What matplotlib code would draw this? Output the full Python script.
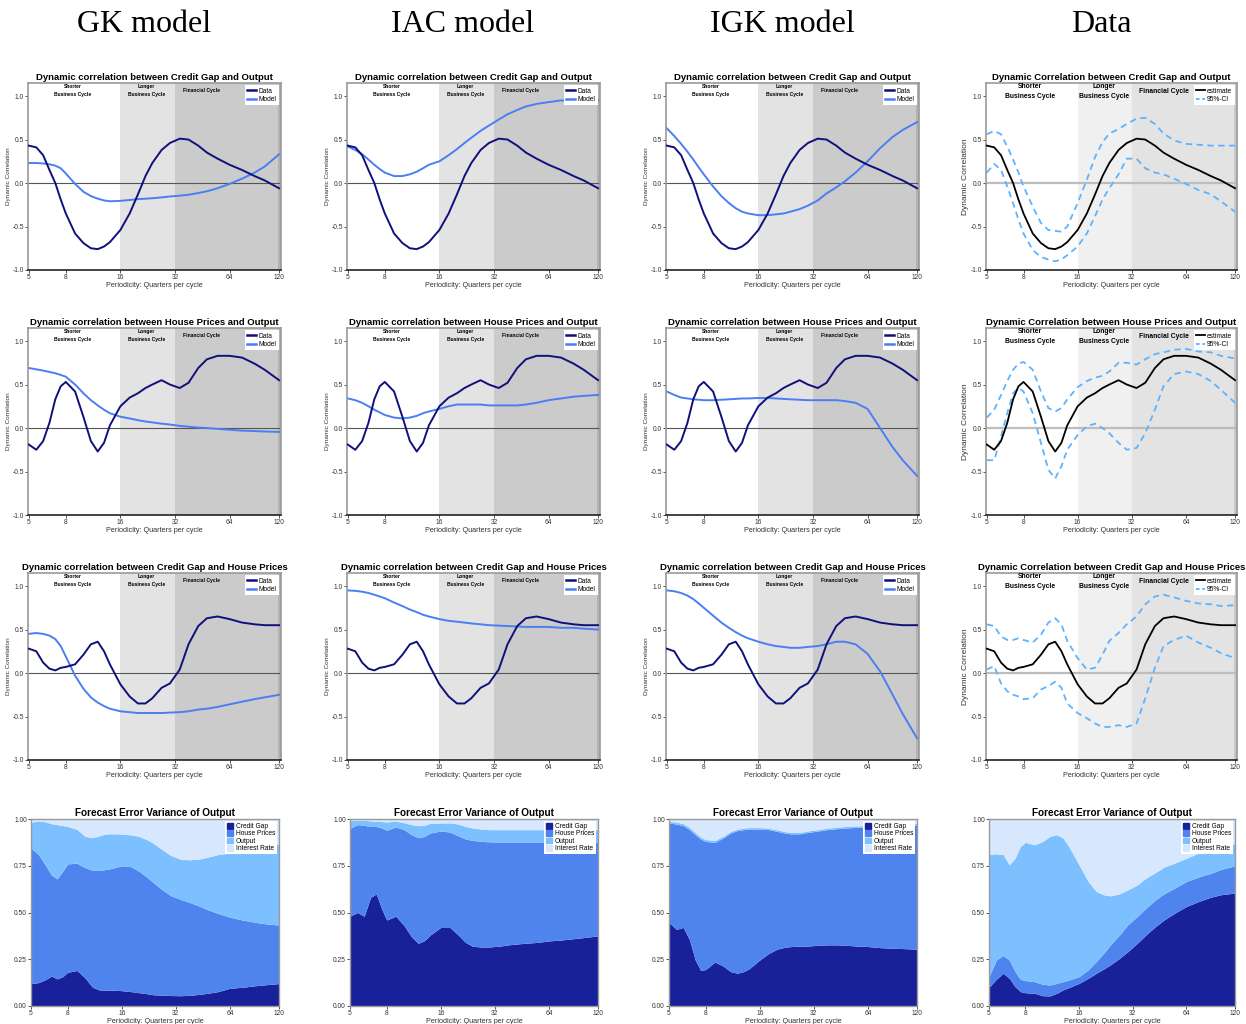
import numpy as np
import matplotlib
matplotlib.use("Agg")
import matplotlib.pyplot as plt
from matplotlib.lines import Line2D
from matplotlib.patches import Patch

plt.rcParams['font.family'] = ['Liberation Sans', 'DejaVu Sans']

# periodicities (quarters per cycle) at which the curves were read
period = [5, 5.5, 6, 6.5, 7, 7.5, 8, 9, 10, 11, 12, 13, 14, 16, 18, 20, 22, 24, 27, 30,
          34, 38, 43, 48, 55, 64, 75, 88, 100, 120]

# ---- Credit Gap and Output ----
cg_out_data = [0.43, 0.41, 0.32, 0.15, 0.0, -0.19, -0.35, -0.58, -0.69, -0.75, -0.76, -0.73, -0.68, -0.54,
               -0.35, -0.13, 0.08, 0.23, 0.38, 0.46, 0.51, 0.50, 0.43, 0.35, 0.28, 0.21, 0.15, 0.08, 0.03, -0.06]
cg_out_gk = [0.23, 0.23, 0.225, 0.215, 0.2, 0.17, 0.11, -0.01, -0.1, -0.15, -0.18, -0.2, -0.21, -0.205,
             -0.195, -0.185, -0.18, -0.175, -0.165, -0.155, -0.145, -0.135, -0.115, -0.095, -0.06, -0.01,
             0.05, 0.12, 0.19, 0.33]
cg_out_iac = [0.42, 0.38, 0.33, 0.27, 0.21, 0.16, 0.12, 0.08, 0.08, 0.10, 0.13, 0.17, 0.21, 0.25, 0.32,
              0.39, 0.46, 0.52, 0.6, 0.66, 0.73, 0.79, 0.84, 0.88, 0.91, 0.93, 0.95, 0.95, 0.95, 0.95]
cg_out_igk = [0.63, 0.54, 0.45, 0.36, 0.27, 0.18, 0.1, -0.04, -0.15, -0.23, -0.29, -0.33, -0.35, -0.37,
              -0.37, -0.36, -0.35, -0.33, -0.3, -0.26, -0.2, -0.12, -0.05, 0.02, 0.12, 0.25, 0.4, 0.53,
              0.61, 0.7]
cg_out_hi = [0.56, 0.6, 0.56, 0.42, 0.27, 0.12, -0.04, -0.27, -0.46, -0.54, -0.55, -0.56, -0.5, -0.23,
             0.04, 0.3, 0.47, 0.57, 0.62, 0.68, 0.74, 0.75, 0.68, 0.57, 0.49, 0.45, 0.44, 0.43, 0.43, 0.43]
cg_out_lo = [0.12, 0.22, 0.15, -0.04, -0.23, -0.42, -0.58, -0.77, -0.85, -0.88, -0.9, -0.88, -0.83,
             -0.73, -0.58, -0.38, -0.19, -0.06, 0.1, 0.28, 0.28, 0.17, 0.12, 0.1, 0.05, -0.01, -0.08,
             -0.13, -0.21, -0.33]

# ---- House Prices and Output ----
hp_out_data = [-0.19, -0.25, -0.15, 0.06, 0.33, 0.48, 0.53, 0.42, 0.13, -0.15, -0.27, -0.17, 0.03, 0.25,
               0.35, 0.4, 0.46, 0.5, 0.55, 0.5, 0.46, 0.52, 0.69, 0.79, 0.83, 0.83, 0.81, 0.74, 0.67, 0.55]
hp_out_gk = [0.69, 0.675, 0.66, 0.645, 0.63, 0.61, 0.59, 0.5, 0.4, 0.32, 0.26, 0.21, 0.17, 0.13, 0.11,
             0.09, 0.075, 0.065, 0.05, 0.04, 0.025, 0.015, 0.005, 0.0, -0.01, -0.02, -0.03, -0.035,
             -0.04, -0.045]
hp_out_iac = [0.34, 0.32, 0.29, 0.25, 0.21, 0.18, 0.15, 0.12, 0.11, 0.12, 0.14, 0.17, 0.19, 0.22, 0.25,
              0.27, 0.27, 0.27, 0.27, 0.26, 0.26, 0.26, 0.26, 0.27, 0.29, 0.32, 0.34, 0.36, 0.37, 0.38]
hp_out_igk = [0.42, 0.38, 0.35, 0.34, 0.33, 0.325, 0.32, 0.32, 0.325, 0.33, 0.335, 0.34, 0.34, 0.345,
              0.345, 0.34, 0.335, 0.33, 0.325, 0.32, 0.32, 0.32, 0.32, 0.31, 0.29, 0.22, 0.0, -0.22,
              -0.37, -0.55]
hp_out_hi = [0.12, 0.21, 0.38, 0.54, 0.67, 0.74, 0.76, 0.67, 0.42, 0.23, 0.19, 0.23, 0.33, 0.47, 0.54,
             0.58, 0.6, 0.65, 0.75, 0.75, 0.73, 0.79, 0.85, 0.87, 0.9, 0.91, 0.88, 0.87, 0.83, 0.8]
hp_out_lo = [-0.37, -0.37, -0.1, 0.17, 0.4, 0.46, 0.42, 0.17, -0.17, -0.48, -0.58, -0.44, -0.25, -0.08,
             0.02, 0.05, 0.0, -0.06, -0.17, -0.25, -0.23, -0.06, 0.21, 0.48, 0.62, 0.65, 0.62, 0.54,
             0.44, 0.29]

# ---- Credit Gap and House Prices ----
cg_hp_data = [0.28, 0.25, 0.12, 0.05, 0.03, 0.06, 0.07, 0.1, 0.21, 0.33, 0.36, 0.25, 0.1, -0.13, -0.27,
              -0.35, -0.35, -0.29, -0.17, -0.12, 0.04, 0.33, 0.54, 0.63, 0.65, 0.62, 0.58, 0.56, 0.55, 0.55]
cg_hp_gk = [0.45, 0.46, 0.45, 0.43, 0.39, 0.31, 0.19, -0.03, -0.18, -0.28, -0.34, -0.38, -0.41, -0.44,
            -0.45, -0.46, -0.46, -0.46, -0.46, -0.455, -0.45, -0.44, -0.42, -0.41, -0.39, -0.36, -0.33,
            -0.3, -0.28, -0.25]
cg_hp_iac = [0.95, 0.945, 0.935, 0.92, 0.9, 0.88, 0.86, 0.81, 0.77, 0.73, 0.7, 0.67, 0.65, 0.62, 0.6,
             0.59, 0.58, 0.57, 0.56, 0.55, 0.545, 0.54, 0.535, 0.53, 0.53, 0.53, 0.52, 0.52, 0.51, 0.5]
cg_hp_igk = [0.95, 0.94, 0.92, 0.89, 0.85, 0.8, 0.75, 0.66, 0.58, 0.52, 0.47, 0.43, 0.4, 0.36, 0.33,
             0.31, 0.3, 0.29, 0.29, 0.3, 0.31, 0.33, 0.36, 0.36, 0.33, 0.22, 0.02, -0.25, -0.47, -0.75]
cg_hp_hi = [0.56, 0.54, 0.42, 0.38, 0.38, 0.4, 0.38, 0.35, 0.44, 0.58, 0.63, 0.56, 0.37, 0.17, 0.04,
            0.06, 0.21, 0.37, 0.46, 0.56, 0.65, 0.79, 0.88, 0.9, 0.87, 0.83, 0.8, 0.79, 0.77, 0.78]
cg_hp_lo = [0.04, 0.08, -0.12, -0.21, -0.25, -0.27, -0.3, -0.29, -0.19, -0.15, -0.1, -0.17, -0.35, -0.46,
            -0.52, -0.58, -0.62, -0.62, -0.6, -0.62, -0.58, -0.29, 0.06, 0.31, 0.38, 0.43, 0.35, 0.29,
            0.23, 0.17]

# ---- Forecast error variance of output: cumulative tops of Credit Gap, House Prices, Output ----
gk_credit = [0.12, 0.125, 0.14, 0.16, 0.145, 0.157, 0.18, 0.19, 0.15, 0.1, 0.086, 0.085, 0.085, 0.082,
             0.077, 0.071, 0.066, 0.06, 0.058, 0.056, 0.055, 0.057, 0.062, 0.068, 0.077, 0.095, 0.1,
             0.108, 0.113, 0.12]
gk_house = [0.845, 0.81, 0.755, 0.70, 0.68, 0.72, 0.76, 0.764, 0.74, 0.725, 0.725, 0.73, 0.735, 0.75,
            0.745, 0.72, 0.69, 0.66, 0.62, 0.59, 0.57, 0.555, 0.535, 0.515, 0.495, 0.475, 0.46, 0.448,
            0.44, 0.433]
gk_output = [0.982, 0.99, 0.985, 0.975, 0.97, 0.965, 0.96, 0.945, 0.907, 0.9, 0.91, 0.92, 0.921, 0.92,
             0.915, 0.907, 0.89, 0.87, 0.835, 0.805, 0.785, 0.782, 0.785, 0.796, 0.81, 0.818, 0.827,
             0.845, 0.854, 0.865]

iac_credit = [0.48, 0.5, 0.48, 0.58, 0.6, 0.52, 0.46, 0.48, 0.43, 0.37, 0.335, 0.35, 0.38, 0.42, 0.42,
              0.38, 0.34, 0.32, 0.315, 0.316, 0.32, 0.327, 0.332, 0.336, 0.34, 0.348, 0.353, 0.36,
              0.366, 0.375]
iac_house = [0.95, 0.97, 0.966, 0.96, 0.96, 0.952, 0.94, 0.957, 0.943, 0.916, 0.9, 0.907, 0.925, 0.936,
             0.93, 0.91, 0.893, 0.886, 0.88, 0.878, 0.877, 0.877, 0.877, 0.877, 0.877, 0.877, 0.877,
             0.877, 0.877, 0.877]
iac_output = [0.993, 0.993, 0.993, 0.99, 0.988, 0.986, 0.984, 0.988, 0.98, 0.97, 0.964, 0.967, 0.977,
              0.979, 0.979, 0.973, 0.96, 0.952, 0.946, 0.943, 0.943, 0.943, 0.943, 0.943, 0.943, 0.943,
              0.943, 0.943, 0.943, 0.943]

igk_credit = [0.446, 0.41, 0.42, 0.354, 0.246, 0.19, 0.195, 0.235, 0.214, 0.184, 0.175, 0.184, 0.2,
              0.246, 0.282, 0.304, 0.314, 0.318, 0.32, 0.321, 0.325, 0.327, 0.327, 0.325, 0.321, 0.318,
              0.312, 0.309, 0.307, 0.304]
igk_house = [0.979, 0.973, 0.964, 0.943, 0.916, 0.893, 0.88, 0.875, 0.898, 0.925, 0.938, 0.943, 0.946,
             0.946, 0.943, 0.934, 0.925, 0.92, 0.921, 0.929, 0.936, 0.943, 0.948, 0.952, 0.955, 0.957,
             0.96, 0.963, 0.965, 0.968]
igk_output = [0.988, 0.983, 0.975, 0.955, 0.927, 0.903, 0.89, 0.886, 0.907, 0.933, 0.946, 0.951, 0.954,
              0.954, 0.951, 0.942, 0.933, 0.928, 0.929, 0.937, 0.944, 0.951, 0.956, 0.96, 0.963, 0.965,
              0.968, 0.971, 0.973, 0.976]

data_credit = [0.1, 0.143, 0.175, 0.148, 0.104, 0.077, 0.071, 0.068, 0.055, 0.054, 0.068, 0.086, 0.098,
               0.121, 0.148, 0.175, 0.198, 0.22, 0.255, 0.29, 0.336, 0.38, 0.425, 0.46, 0.496, 0.532,
               0.559, 0.582, 0.595, 0.604]
data_house = [0.157, 0.246, 0.27, 0.246, 0.184, 0.143, 0.136, 0.13, 0.116, 0.112, 0.121, 0.13, 0.139,
              0.157, 0.193, 0.238, 0.282, 0.327, 0.38, 0.434, 0.479, 0.523, 0.568, 0.6, 0.63, 0.666,
              0.69, 0.71, 0.73, 0.75]
data_output = [0.81, 0.814, 0.81, 0.755, 0.79, 0.854, 0.875, 0.862, 0.88, 0.907, 0.916, 0.898, 0.854,
               0.755, 0.666, 0.612, 0.595, 0.589, 0.6, 0.621, 0.648, 0.684, 0.714, 0.743, 0.764, 0.79,
               0.818, 0.836, 0.85, 0.868]

col_names = ["GK model", "IAC model", "IGK model", "Data"]
row_titles = ["Credit Gap and Output", "House Prices and Output", "Credit Gap and House Prices"]
xticks = [5, 8, 16, 32, 64, 120]

data_rows = [cg_out_data, hp_out_data, cg_hp_data]
model_rows = [[cg_out_gk, cg_out_iac, cg_out_igk],
              [hp_out_gk, hp_out_iac, hp_out_igk],
              [cg_hp_gk, cg_hp_iac, cg_hp_igk]]
ci_rows = [(cg_out_lo, cg_out_hi), (hp_out_lo, hp_out_hi), (cg_hp_lo, cg_hp_hi)]
fevd = [(gk_credit, gk_house, gk_output), (iac_credit, iac_house, iac_output),
        (igk_credit, igk_house, igk_output), (data_credit, data_house, data_output)]

NAVY = '#10107c'
MODEL = '#4a7ef2'
CI = '#5cb3ff'
fevd_cols = ['#18219a', '#4f84ee', '#7cc0ff', '#d6e7fe']

W, H = 1246, 1024
fig = plt.figure(figsize=(W / 100, H / 100), dpi=100)

col_left = [28, 347, 666, 986]
col_right = [281, 600, 919, 1237]
head_x = [144, 463, 782, 1101]
row_top = [83, 328, 573]
row_bot = [270, 515, 760]


def box(l, t, r, b):
    return [l / W, 1 - b / H, (r - l) / W, (b - t) / H]


def style_ticks(ax):
    ax.set_xscale('log')
    ax.set_xticks(xticks)
    ax.set_xticklabels([str(t) for t in xticks])
    ax.minorticks_off()
    ax.tick_params(labelsize=4.8, length=2, width=0.6, pad=1, colors='#333333')
    ax.set_xlabel("Periodicity: Quarters per cycle", fontsize=5.2, labelpad=0.5, color='#333333')


for c in range(4):
    fig.text(head_x[c] / W, 1 - 25 / H, col_names[c],
             ha='center', va='center', fontsize=23, family='Liberation Serif')

for r in range(3):
    for c in range(4):
        is_data = (c == 3)
        ax = fig.add_axes(box(col_left[c], row_top[r], col_right[c], row_bot[r]))
        ax.set_xlim(4.95, 123)
        ax.set_ylim(-1.0, 1.15)
        if is_data:
            ax.set_facecolor('#c8c8c8')
            bands = ['white', '#f0f0f0', '#e3e3e3']
        else:
            ax.set_facecolor('#b2b2b2')
            bands = ['white', '#e3e3e3', '#cbcbcb']
        ax.axvspan(4.95, 16, color=bands[0], lw=0, zorder=0)
        ax.axvspan(16, 32, color=bands[1], lw=0, zorder=0)
        ax.axvspan(32, 118.5, color=bands[2], lw=0, zorder=0)

        fs = 4.9 if is_data else 3.6
        lo_y = 0.995 if is_data else 1.02
        ax.text(8.7, 1.11, "Shorter", ha='center', va='center', fontsize=fs, fontweight='bold')
        ax.text(8.7, lo_y, "Business Cycle", ha='center', va='center', fontsize=fs, fontweight='bold')
        ax.text(22.3, 1.11, "Longer", ha='center', va='center', fontsize=fs, fontweight='bold')
        ax.text(22.3, lo_y, "Business Cycle", ha='center', va='center', fontsize=fs, fontweight='bold')
        ax.text(48 if is_data else 45, 1.05 if is_data else 1.065, "Financial Cycle",
                ha='center', va='center', fontsize=fs, fontweight='bold')

        if is_data:
            ax.axhline(0, color='#bdbdbd', lw=1.6, zorder=1)
            ax.plot(period, ci_rows[r][1], color=CI, lw=1.3, ls=(0, (3.5, 2.5)), zorder=2)
            ax.plot(period, ci_rows[r][0], color=CI, lw=1.3, ls=(0, (3.5, 2.5)), zorder=2)
            ax.plot(period, data_rows[r], color='black', lw=1.3, zorder=3)
            handles = [Line2D([], [], color='black', lw=1.3),
                       Line2D([], [], color=CI, lw=1.3, ls=(0, (2, 1.5)))]
            labels = ["estimate", "95%-CI"]
            ttl = "Dynamic Correlation between " + row_titles[r]
            ylfs = 6
        else:
            ax.axhline(0, color='#555555', lw=0.8, zorder=1)
            ax.plot(period, data_rows[r], color=NAVY, lw=1.4, zorder=3)
            ax.plot(period, model_rows[r][c], color=MODEL, lw=1.4, zorder=2)
            handles = [Line2D([], [], color=NAVY, lw=1.8), Line2D([], [], color=MODEL, lw=1.8)]
            labels = ["Data", "Model"]
            ttl = "Dynamic correlation between " + row_titles[r]
            ylfs = 4.6

        leg = ax.legend(handles, labels, loc='upper right', fontsize=4.8, frameon=True,
                        fancybox=False, framealpha=1, edgecolor='none', handlelength=1.3,
                        handletextpad=0.4, borderpad=0.35, labelspacing=0.2,
                        borderaxespad=0.35)
        leg.get_frame().set_linewidth(0)

        style_ticks(ax)
        ax.set_yticks([-1.0, -0.5, 0.0, 0.5, 1.0])
        ax.set_yticklabels(["-1.0", "-0.5", "0.0", "0.5", "1.0"])
        ax.set_ylabel("Dynamic Correlation", fontsize=ylfs, labelpad=1, color='#333333')
        ax.set_title(ttl, fontsize=6.8, fontweight='bold', pad=2)
        for s in ['left', 'right', 'top']:
            ax.spines[s].set_color('#9a9a9a')
            ax.spines[s].set_linewidth(1.2)
        ax.spines['bottom'].set_color('#222222')
        ax.spines['bottom'].set_linewidth(1.2)

# FEVD row
for c in range(4):
    credit, house, output = fevd[c]
    ax = fig.add_axes(box(col_left[c] + 3, 819, col_right[c] - 2, 1006))
    ax.fill_between(period, 0, credit, color=fevd_cols[0], lw=0, label="Credit Gap")
    ax.fill_between(period, credit, house, color=fevd_cols[1], lw=0, label="House Prices")
    ax.fill_between(period, house, output, color=fevd_cols[2], lw=0, label="Output")
    ax.fill_between(period, output, 1, color=fevd_cols[3], lw=0, label="Interest Rate")
    ax.set_xlim(5, 120)
    ax.set_ylim(0, 1)
    style_ticks(ax)
    ax.set_yticks([0, 0.25, 0.5, 0.75, 1.0])
    ax.set_yticklabels(["0.00", "0.25", "0.50", "0.75", "1.00"])
    ax.set_title("Forecast Error Variance of Output", fontsize=7.2, fontweight='bold', pad=2)
    hs = [Patch(color=col) for col in fevd_cols]
    leg = ax.legend(hs, ["Credit Gap", "House Prices", "Output", "Interest Rate"],
                    loc='upper right', fontsize=4.8, frameon=True, fancybox=False, framealpha=1,
                    edgecolor='none', handlelength=0.9, handleheight=0.9, handletextpad=0.4,
                    borderpad=0.3, labelspacing=0.05, borderaxespad=0.3)
    for s in ax.spines.values():
        s.set_color('#9a9a9a')
        s.set_linewidth(1.0)

fig.savefig("out.png", dpi=100)
